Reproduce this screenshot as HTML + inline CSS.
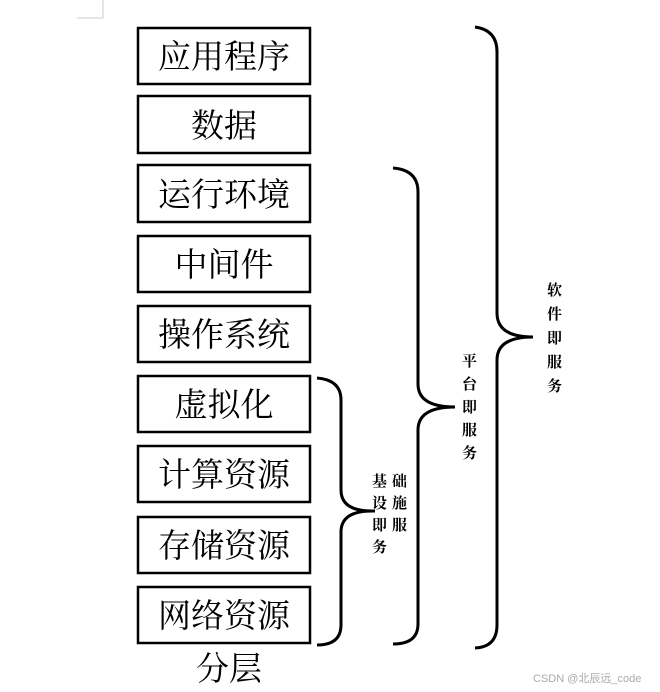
<!DOCTYPE html>
<html><head><meta charset="utf-8"><style>
html,body{margin:0;padding:0;background:#fff;}
svg{display:block}
.b{font-family:"Liberation Serif","Noto Serif CJK SC",serif;font-size:33px;fill:#000}
.l{font-family:"Liberation Serif","Noto Serif CJK SC",serif;font-size:15px;font-weight:bold;fill:#000}
</style></head><body>
<svg width="660" height="692" viewBox="0 0 660 692" xmlns="http://www.w3.org/2000/svg">
<path d="M77 18 H103 V0" fill="none" stroke="#ccc" stroke-width="1"/>
<g fill="none" stroke="#000" stroke-width="2.5">
<rect x="138" y="28" width="172" height="56"/>
<rect x="138" y="96" width="172" height="57"/>
<rect x="138" y="165" width="172" height="57"/>
<rect x="138" y="236" width="172" height="56"/>
<rect x="138" y="306" width="172" height="56"/>
<rect x="138" y="376" width="172" height="56"/>
<rect x="138" y="446" width="172" height="56"/>
<rect x="138" y="517" width="172" height="56"/>
<rect x="138" y="587" width="172" height="56"/>
</g>
<g class="b" text-anchor="middle">
<text x="224" y="68">应用程序</text>
<text x="224" y="137">数据</text>
<text x="224" y="206">运行环境</text>
<text x="224" y="276">中间件</text>
<text x="224" y="346">操作系统</text>
<text x="224" y="416">虚拟化</text>
<text x="224" y="486">计算资源</text>
<text x="224" y="557">存储资源</text>
<text x="224" y="627">网络资源</text>
<text x="229" y="680">分层</text>
</g>
<g fill="none" stroke="#000" stroke-width="3">
<path d="M317 378 Q341 380 341 400 V490 Q341 511 372 511 M372 511 L375 511 M372 511 Q341 511 341 532 V625 Q341 645 317 645"/>
<path d="M393 168 Q418 170 418 192 V384 Q418 407 455 407 Q418 407 418 430 V624 Q418 644 393 644"/>
<path d="M475 27 Q497 30 497 52 V313 Q497 337 533 337 Q497 337 497 360 V625 Q497 647 475 648"/>
</g>
<g class="l">
<text x="372" y="486">基</text><text x="372" y="508">设</text><text x="372" y="530">即</text><text x="372" y="552">务</text>
<text x="392" y="486">础</text><text x="392" y="508">施</text><text x="392" y="530">服</text>
<text x="462" y="366">平</text><text x="462" y="389">台</text><text x="462" y="412">即</text><text x="462" y="435">服</text><text x="462" y="458">务</text>
<text x="547" y="295">软</text><text x="547" y="319">件</text><text x="547" y="343">即</text><text x="547" y="367">服</text><text x="547" y="391">务</text>
</g>
<text x="533" y="682" font-family="Liberation Sans,'Noto Sans CJK SC',sans-serif" font-size="11" fill="#aaa">CSDN @北辰远_code</text>
</svg>
</body></html>
